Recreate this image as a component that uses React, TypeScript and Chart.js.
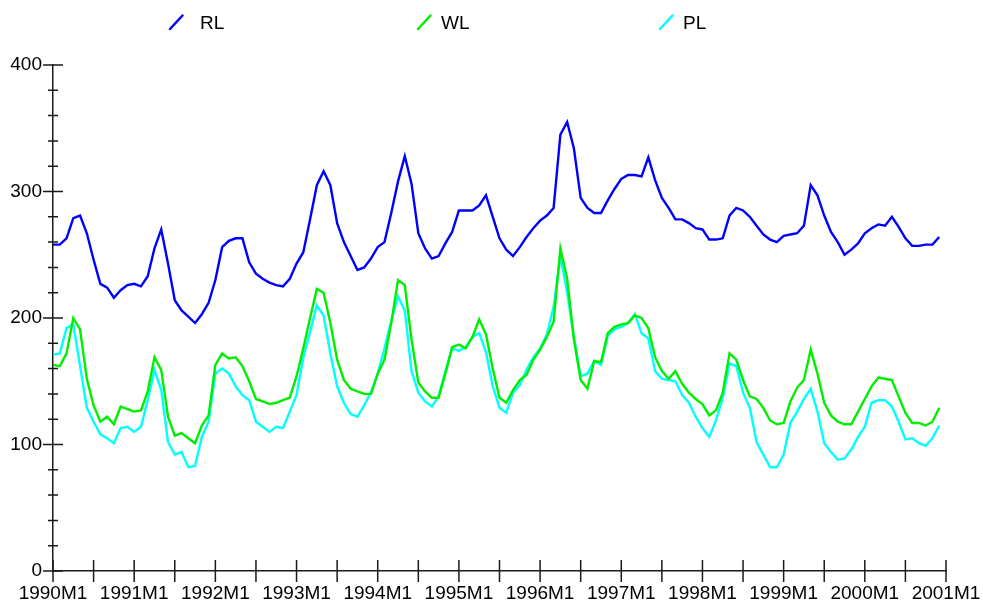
import React, { useEffect, useRef } from 'react';
import { Chart, registerables } from 'chart.js';

Chart.register(...registerables);

// Year labels for the x axis (one per January, ticks every six months)
const yearTicks = [
  '1990M1', '1991M1', '1992M1', '1993M1', '1994M1', '1995M1',
  '1996M1', '1997M1', '1998M1', '1999M1', '2000M1', '2001M1',
];

const seriesNames = ['RL', 'WL', 'PL'];
const seriesColors = ['#0000ff', '#00ee00', '#00ffff'];

// Monthly values, 1990M1 .. 2000M12
const RL = [
  258, 258, 263, 279, 281, 267, 246, 227, 224, 216, 222, 226,
  227, 225, 233, 255, 270, 243, 214, 206, 201, 196, 203, 212,
  230, 256, 261, 263, 263, 244, 235, 231, 228, 226, 225, 231,
  243, 252, 278, 305, 316, 305, 275, 260, 249, 238, 240, 247,
  256, 260, 283, 308, 328, 306, 267, 255, 247, 249, 259, 268,
  285, 285, 285, 289, 297, 280, 263, 254, 249, 256, 264, 271,
  277, 281, 287, 345, 355, 334, 295, 287, 283, 283, 293, 302,
  310, 313, 313, 312, 327, 309, 295, 287, 278, 278, 275, 271,
  270, 262, 262, 263, 281, 287, 285, 280, 273, 266, 262, 260,
  265, 266, 267, 273, 305, 297, 281, 268, 260, 250, 254, 259,
  267, 271, 274, 273, 280, 272, 263, 257, 257, 258, 258, 264,
];

const WL = [
  163, 162, 172, 200, 191, 152, 131, 118, 122, 116, 130, 128,
  126, 127, 142, 169, 159, 122, 107, 109, 105, 101, 115, 123,
  163, 172, 168, 169, 162, 150, 136, 134, 132, 133, 135, 137,
  154, 176, 200, 223, 220, 196, 167, 151, 144, 142, 140, 140,
  156, 167, 196, 230, 226, 183, 149, 142, 137, 137, 156, 177,
  179, 176, 185, 199, 187, 160, 137, 133, 143, 151, 155, 167,
  175, 185, 197, 255, 231, 183, 151, 144, 166, 165, 188, 193,
  195, 196, 202, 200, 192, 169, 158, 152, 158, 148, 141, 136,
  132, 123, 127, 141, 172, 167, 151, 138, 136, 129, 119, 116,
  117, 134, 145, 151, 175, 156, 133, 123, 118, 116, 116, 126,
  136, 146, 153, 152, 151, 138, 125, 117, 117, 115, 118, 129,
];

const PL = [
  171, 172, 192, 195, 162, 129, 118, 108, 105, 101, 113, 114,
  110, 114, 135, 159, 143, 102, 92, 94, 82, 83, 106, 118,
  156, 160, 156, 146, 139, 135, 118, 114, 110, 114, 113, 126,
  139, 169, 189, 210, 202, 172, 146, 133, 124, 122, 131, 141,
  156, 176, 198, 217, 206, 158, 141, 134, 130, 138, 158, 176,
  174, 177, 185, 188, 173, 146, 129, 125, 141, 147, 159, 169,
  176, 187, 209, 249, 220, 185, 154, 156, 166, 163, 186, 191,
  193, 196, 203, 188, 184, 158, 152, 151, 150, 139, 133, 122,
  113, 106, 119, 137, 164, 162, 141, 129, 102, 92, 82, 82,
  92, 117, 126, 136, 144, 126, 101, 94, 88, 89, 96, 106,
  114, 133, 135, 135, 130, 118, 104, 105, 101, 99, 105, 115,
];

const seriesValues = [RL, WL, PL];

const FONT = '"Liberation Sans", Arial, Helvetica, sans-serif';
const AXIS_COLOR = '#1a1a1a';

// Legend slots: sample-line start and text start, measured from the plot's left edge
const legendSlots = [
  { mark: 117, text: 147 },
  { mark: 365, text: 388 },
  { mark: 607, text: 630 },
];

// Tick marks that cross the axis lines: long ones at labelled values, short ones between
const axisMarks = {
  id: 'axisMarks',
  afterDraw(chart: any) {
    const { ctx, chartArea, scales } = chart;
    const xs = scales.x;
    const ys = scales.y;
    ctx.save();
    ctx.strokeStyle = AXIS_COLOR;
    ctx.lineWidth = 1.5;
    ctx.beginPath();
    ys.ticks.forEach((t: any) => {
      const py = ys.getPixelForValue(t.value);
      const half = t.value % 100 === 0 ? 10 : 5;
      ctx.moveTo(chartArea.left - half, py);
      ctx.lineTo(chartArea.left + half, py);
    });
    xs.ticks.forEach((t: any) => {
      const px = xs.getPixelForValue(t.value);
      ctx.moveTo(px, chartArea.bottom - 11);
      ctx.lineTo(px, chartArea.bottom + 11);
    });
    ctx.stroke();
    ctx.restore();
  },
};

// Legend row with a slanted line sample before each series name
const slashLegend = {
  id: 'slashLegend',
  afterDraw(chart: any) {
    const { ctx, chartArea } = chart;
    ctx.save();
    ctx.font = `19px ${FONT}`;
    ctx.textBaseline = 'alphabetic';
    ctx.textAlign = 'left';
    chart.data.datasets.forEach((ds: any, i: number) => {
      const slot = legendSlots[i];
      const x0 = chartArea.left + slot.mark;
      ctx.strokeStyle = ds.borderColor;
      ctx.lineWidth = 2.5;
      ctx.lineCap = 'round';
      ctx.beginPath();
      ctx.moveTo(x0, 29);
      ctx.lineTo(x0 + 12.5, 15.5);
      ctx.stroke();
      ctx.fillStyle = '#000';
      ctx.fillText(ds.label, chartArea.left + slot.text, 29);
    });
    ctx.restore();
  },
};

export default function App() {
  const canvasRef = useRef<HTMLCanvasElement | null>(null);

  useEffect(() => {
    const canvas = canvasRef.current;
    if (!canvas) return;

    const datasets = seriesValues.map((vals, s) => ({
      label: seriesNames[s],
      data: vals.map((v, i) => ({ x: i, y: v })),
      borderColor: seriesColors[s],
      backgroundColor: seriesColors[s],
      borderWidth: 2.4,
      pointRadius: 0,
      tension: 0,
      fill: false,
    }));

    const chart = new Chart(canvas, {
      type: 'line',
      data: { datasets },
      plugins: [axisMarks, slashLegend],
      options: {
        animation: false,
        responsive: false,
        devicePixelRatio: 1,
        layout: { padding: { top: 65, right: 37, left: 0, bottom: 0 } },
        plugins: {
          legend: { display: false },
          tooltip: { enabled: false },
        },
        scales: {
          x: {
            type: 'linear',
            min: 0,
            max: 132,
            grid: { display: false, drawTicks: false },
            border: { display: true, color: AXIS_COLOR, width: 1.5 },
            ticks: {
              stepSize: 6,
              autoSkip: false,
              maxRotation: 0,
              minRotation: 0,
              padding: 11,
              color: '#000',
              font: { family: FONT, size: 19 },
              callback: (v: any) => (Number(v) % 12 === 0 ? yearTicks[Number(v) / 12] : ''),
            },
            afterFit: (s: any) => {
              s.height = 34;
              s.paddingLeft = 0;
              s.paddingRight = 0;
            },
          },
          y: {
            min: 0,
            max: 400,
            grid: { display: false, drawTicks: false },
            border: { display: true, color: AXIS_COLOR, width: 1.5 },
            ticks: {
              stepSize: 20,
              autoSkip: false,
              padding: 11,
              color: '#000',
              font: { family: FONT, size: 19 },
              callback: (v: any) => (Number(v) % 100 === 0 ? String(v) : ''),
            },
            afterFit: (s: any) => {
              s.width = 53;
              s.paddingTop = 0;
              s.paddingBottom = 0;
            },
          },
        },
      },
    });

    return () => chart.destroy();
  }, []);

  return (
    <div style={{ position: 'fixed', left: 0, top: 0, width: 983, height: 605, background: '#fff' }}>
      <canvas ref={canvasRef} width={983} height={605} style={{ display: 'block' }} />
    </div>
  );
}
